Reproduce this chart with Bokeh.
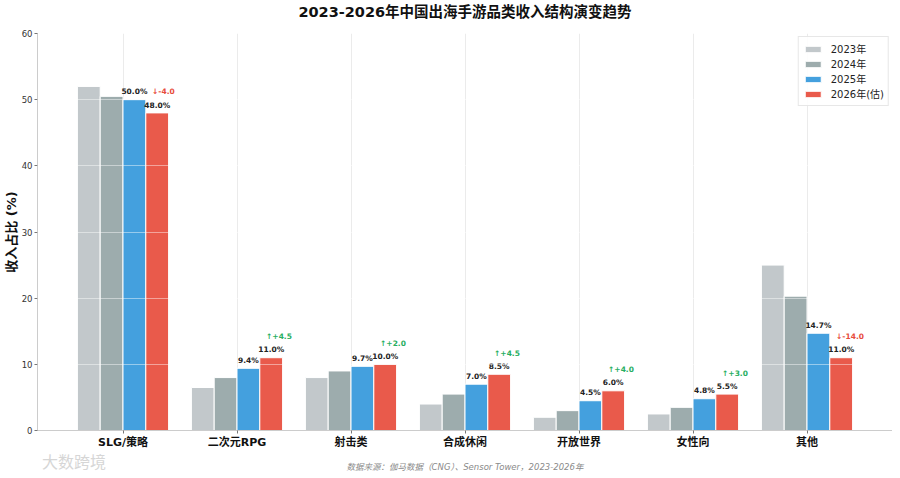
import numpy as np
from bokeh.plotting import figure
from bokeh.layouts import column
from bokeh.models import (ColumnDataSource, FixedTicker, Range1d, Legend, LegendItem)
from bokeh.embed import file_html
from bokeh.resources import INLINE
from bokeh.core.properties import value

categories = ["SLG/策略", "二次元RPG", "射击类", "合成休闲", "开放世界", "女性向", "其他"]
years = ["2023年", "2024年", "2025年", "2026年(估)"]
v2023 = [52.0, 6.5, 8.0, 4.0, 2.0, 2.5, 25.0]
v2024 = [50.5, 8.0, 9.0, 5.5, 3.0, 3.5, 20.3]
v2025 = [50.0, 9.4, 9.7, 7.0, 4.5, 4.8, 14.7]
v2026 = [48.0, 11.0, 10.0, 8.5, 6.0, 5.5, 11.0]
y_ticks = [0, 10, 20, 30, 40, 50, 60]
title_text = "2023-2026年中国出海手游品类收入结构演变趋势"
source_text = "数据来源：伽马数据（CNG）、Sensor Tower，2023-2026年"
watermark_text = "大数跨境"

colors = ["#bdc3c7", "#95a5a6", "#3498db", "#e74c3c"]
offsets = [-0.3, -0.1, 0.1, 0.3]
FONT = "DejaVu Sans, Noto Sans CJK SC"
W = 892
X0, X1 = -0.75, 6.75


def strip(h):
    s = figure(width=W, height=h, output_backend="svg", toolbar_location=None,
               x_range=Range1d(X0, X1), y_range=Range1d(0, h),
               x_axis_location=None, y_axis_location=None, min_border=0)
    s.outline_line_color = None
    s.grid.visible = False
    return s


# title strip (frame aligned with the chart's frame)
TH = 24
t = strip(TH)
t.text(x=[3.0], y=[13], text=[title_text], text_align="center", text_baseline="middle",
       text_font=value(FONT), text_font_size="14.5px", text_font_style="bold",
       text_color="#111111")

p = figure(width=W, height=427, output_backend="svg", toolbar_location=None,
           x_range=Range1d(X0, X1), y_range=Range1d(0, 60),
           min_border=0, min_border_left=0, min_border_right=0, min_border_top=9,
           min_border_bottom=0)
p.outline_line_color = None
p.background_fill_color = "white"

xs = np.arange(len(categories))
series = [v2023, v2024, v2025, v2026]
renderers = []
for vals, col, off in zip(series, colors, offsets):
    src = ColumnDataSource(dict(x=xs + off, top=vals))
    r = p.vbar(x="x", top="top", bottom=0, width=0.2, source=src,
               fill_color=col, fill_alpha=0.92, line_color="white", line_width=1)
    renderers.append(r)

# value labels for 2025 and 2026
for vals, off in [(v2025, 0.1), (v2026, 0.3)]:
    src = ColumnDataSource(dict(x=xs + off, y=[v + 0.5 for v in vals],
                                t=[f"{v:.1f}%" for v in vals]))
    p.text(x="x", y="y", text="t", source=src, text_align="center",
           text_baseline="bottom", text_font=value(FONT), text_font_size="7.5px",
           text_font_style="bold", text_color="#222222")

# change 2023 -> 2026
deltas = [b - a for a, b in zip(v2023, v2026)]
dsrc = ColumnDataSource(dict(
    x=xs + 0.255,
    y=[v + 2.5 for v in v2026],
    t=[("↑+" if d >= 0 else "↓") + f"{d:.1f}" for d in deltas],
    c=["#27ae60" if d >= 0 else "#e74c3c" for d in deltas]))
p.text(x="x", y="y", text="t", text_color="c", source=dsrc, text_align="left",
       text_baseline="bottom", text_font=value(FONT), text_font_size="7.5px",
       text_font_style="bold")

# axes
p.xaxis.ticker = FixedTicker(ticks=list(xs))
p.xaxis.major_label_overrides = {int(i): c for i, c in zip(xs, categories)}
p.xaxis.major_label_text_font = FONT
p.xaxis.major_label_text_font_size = "11px"
p.xaxis.major_label_text_font_style = "bold"
p.xaxis.major_label_text_color = "#111111"
p.xaxis.major_label_standoff = 2
p.yaxis.ticker = FixedTicker(ticks=y_ticks)
p.yaxis.major_label_text_font = FONT
p.yaxis.major_label_text_font_size = "8.5px"
p.yaxis.major_label_text_color = "#333333"
p.yaxis.major_label_standoff = 2
p.yaxis.axis_label = "收入占比 (%)"
p.yaxis.axis_label_text_font = FONT
p.yaxis.axis_label_text_font_size = "13px"
p.yaxis.axis_label_text_font_style = "bold"
p.yaxis.axis_label_text_color = "#111111"
p.yaxis.axis_label_standoff = 0
for ax in (p.xaxis, p.yaxis):
    ax.axis_line_color = "#cccccc"
    ax.major_tick_line_color = "#777777"
    ax.major_tick_out = 3
    ax.major_tick_in = 0
    ax.minor_tick_line_color = None

p.xgrid.ticker = FixedTicker(ticks=list(xs))
p.xgrid.grid_line_color = "#ebebeb"
p.xgrid.level = "underlay"
p.ygrid.grid_line_color = "white"
p.ygrid.grid_line_alpha = 0.45
p.ygrid.level = "annotation"

legend = Legend(items=[LegendItem(label=y, renderers=[r]) for y, r in zip(years, renderers)],
                location="top_right")
legend.label_text_font = FONT
legend.label_text_font_size = "10px"
legend.label_text_color = "#222222"
legend.glyph_width = 20
legend.glyph_height = 8
legend.label_height = 12
legend.spacing = 0
legend.padding = 4
legend.margin = 3
legend.label_standoff = 8
legend.border_line_color = "#d0d0d0"
legend.background_fill_alpha = 0.9
p.add_layout(legend)

# footer strip: source note and watermark
FH = 24
f = strip(FH)
f.text(x=[3.0], y=[9], text=[source_text], text_align="center", text_baseline="middle",
       text_font=value(FONT), text_font_size="8.5px", text_font_style="italic",
       text_color="#8a8a8a")
f.text(x=[-0.71], y=[13], text=[watermark_text], text_align="left", text_baseline="middle",
       text_font=value(FONT), text_font_size="16px", text_color="#d6d6d6")

layout = column(t, p, f, spacing=0)
open("out.html", "w").write(file_html(layout, INLINE))
